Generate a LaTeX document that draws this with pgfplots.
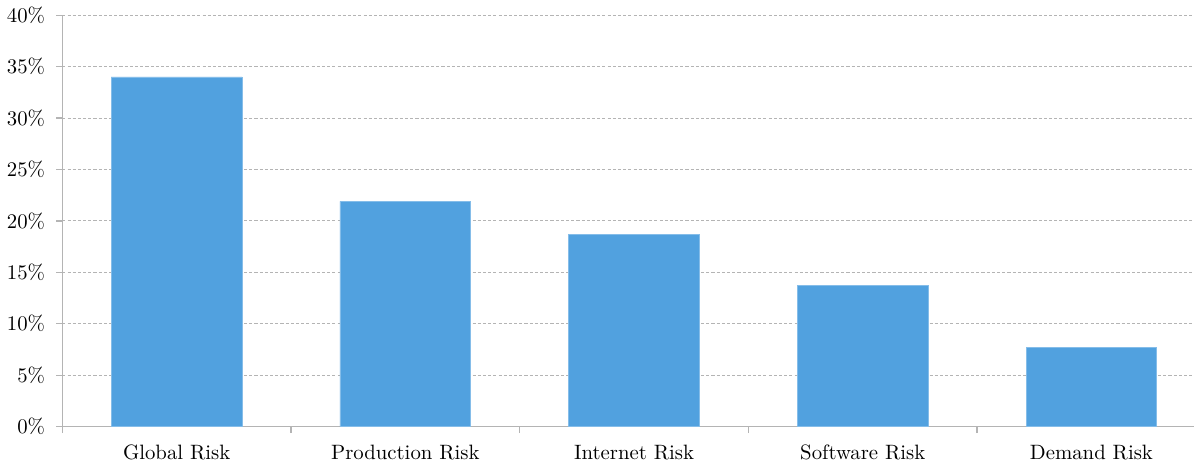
\documentclass[border=0pt]{standalone}
\usepackage{pgfplots}
\pgfplotsset{compat=1.18}
\definecolor{barblue}{HTML}{51A1DF}
\definecolor{axgray}{HTML}{B4B4B4}
\begin{document}
\begin{tikzpicture}
\begin{axis}[
  scale only axis,
  width=545pt, height=198pt,
  xmin=-0.5, xmax=4.45,
  ymin=0, ymax=40,
  axis x line*=bottom,
  axis y line*=left,
  axis line style={axgray, line width=0.6pt},
  ybar,
  bar width=0.572,
  xtick={0,1,2,3,4},
  xticklabels={Global Risk, Production Risk, Internet Risk, Software Risk, Demand Risk},
  minor xtick={-0.5,0.5,1.5,2.5,3.5},
  x tick style={draw=none},
  minor x tick style={draw=axgray, line width=0.6pt},
  ytick={0,5,...,40},
  yticklabel={\pgfmathprintnumber{\tick}\%},
  y tick style={axgray, line width=0.6pt},
  tick align=outside,
  major tick length=2.8pt,
  minor tick length=3.2pt,
  ymajorgrids,
  major grid style={axgray, line width=0.5pt, dash pattern=on 1.5pt off 1pt},
  x tick label style={yshift=-2.5pt},
  y tick label style={xshift=-2pt},
]
\addplot[fill=barblue, draw=barblue!70!white, line width=0.4pt] coordinates {
  (0,34.0) (1,21.9) (2,18.7) (3,13.7) (4,7.7)
};
\end{axis}
\end{tikzpicture}
\end{document}
